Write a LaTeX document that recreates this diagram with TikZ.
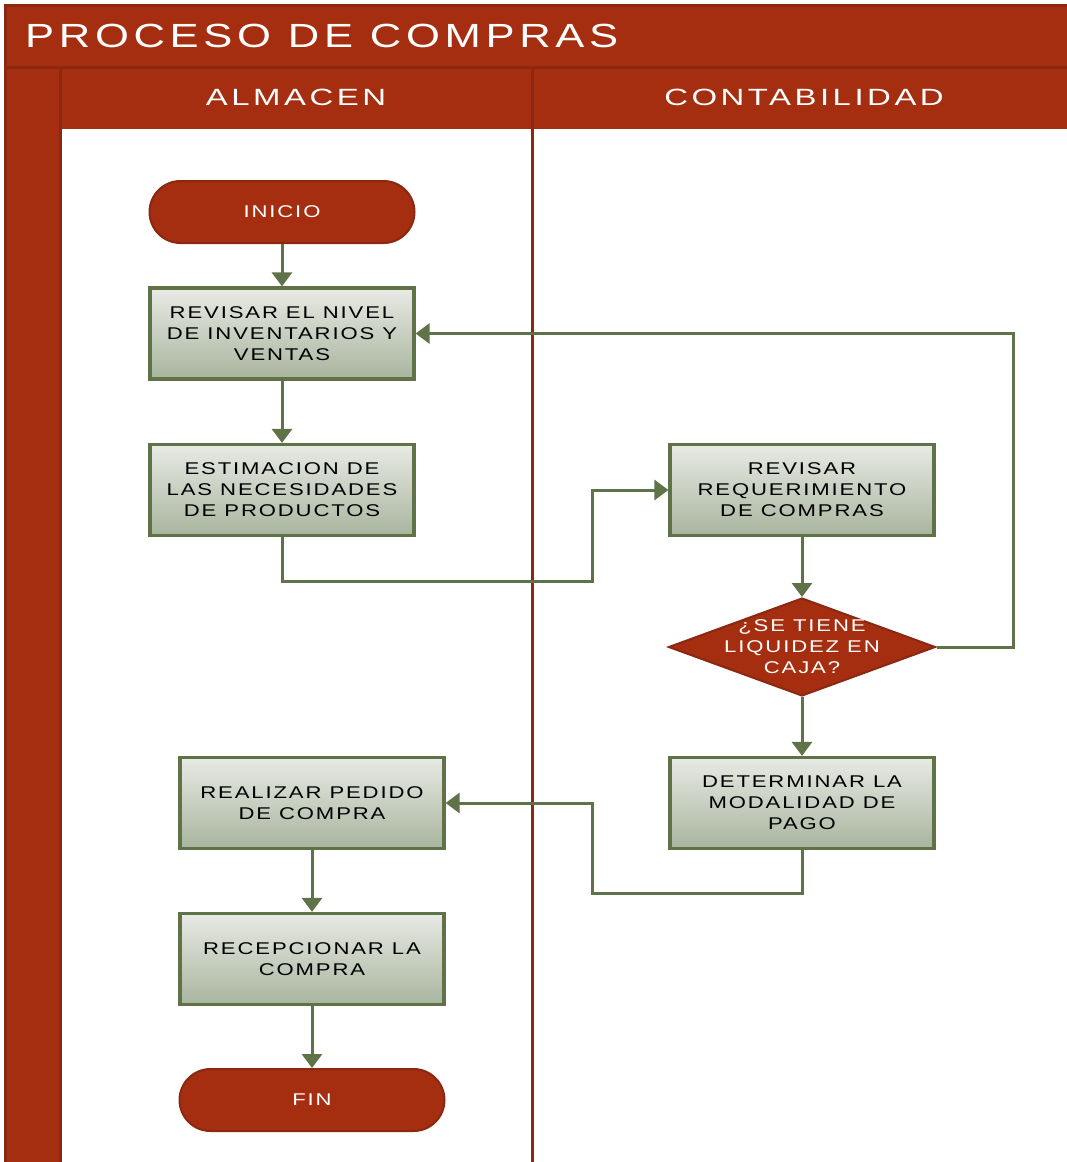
\documentclass[tikz,border=0pt]{standalone}
\usepackage{fontspec}
\usepackage{tikz}
\usetikzlibrary{arrows.meta,shapes}
\newfontfamily\flowfont[FakeStretch=1.3,LetterSpace=11]{Liberation Sans}
\newfontfamily\lanefont[FakeStretch=1.4,LetterSpace=15]{Liberation Sans}
\newfontfamily\titlefont[FakeStretch=1.3,LetterSpace=14]{Liberation Sans}
\definecolor{lanered}{HTML}{A52E10}
\definecolor{lanedark}{HTML}{8A2812}
\definecolor{flowgreen}{HTML}{5F7248}
\definecolor{boxtop}{HTML}{E8EAE4}
\definecolor{boxbot}{HTML}{A8B59E}
\tikzstyle{process}=[rectangle,draw=flowgreen,line width=3.2pt,top color=boxtop,bottom color=boxbot,minimum width=264pt,minimum height=91pt,align=center,font=\flowfont\fontsize{17}{21}\selectfont]
\tikzstyle{terminal}=[rectangle,rounded corners=31pt,draw=lanedark,line width=2pt,fill=lanered,text=white,minimum width=265pt,minimum height=62pt,font=\flowfont\fontsize{17}{21}\selectfont]
\tikzstyle{decision}=[diamond,draw=lanedark,line width=2pt,fill=lanered,text=white,minimum width=267pt,minimum height=98pt,inner sep=0pt,font=\flowfont\fontsize{17}{21}\selectfont]
\tikzstyle{flow} = [draw=flowgreen,line width=3pt,-{Triangle[width=20pt,length=14pt]}]
\tikzstyle{laneline} = [draw=lanedark,line width=3pt]
\tikzstyle{lanetext} = [text=white,inner sep=0pt,font=\lanefont\fontsize{23.5}{26}\selectfont]

\begin{document}
\begin{tikzpicture}[x=1pt,y=-1pt]
    \useasboundingbox (0,0) rectangle (1067,1162);
    % Pool and lanes
    \fill[lanered] (5,5) rectangle (1067,129);
    \fill[lanered] (5,129) rectangle (60,1162);
    \draw[laneline] (5,1162) -- (5,5) -- (1067,5);
    \draw[laneline] (5,67) -- (1067,67);
    \draw[laneline] (60,67) -- (60,1162);
    \draw[laneline] (532,67) -- (532,1162);
    \node[lanetext,anchor=west,font=\titlefont\fontsize{33.5}{36}\selectfont] (titulo) at (25,35.5) {PROCESO DE COMPRAS};
    \node[lanetext] (almacen) at (296,97) {ALMACEN};
    \node[lanetext] (contab) at (804,97) {CONTABILIDAD};

    % First we draw the steps
    \node[terminal] (inicio) at (282,212) {INICIO};
    \node[terminal] (fin) at (312,1100) {FIN};
    \foreach \pos/\name/\txt in {{(282,333.5)/nivel/{REVISAR EL NIVEL\\DE INVENTARIOS Y\\VENTAS}},
        {(282,490)/estim/{ESTIMACION DE\\LAS NECESIDADES\\DE PRODUCTOS}},
        {(802,490)/reqs/{REVISAR\\REQUERIMIENTO\\DE COMPRAS}},
        {(802,803)/pago/{DETERMINAR LA\\MODALIDAD DE\\PAGO}},
        {(312,803)/pedido/{REALIZAR PEDIDO\\DE COMPRA}},
        {(312,959)/recep/{RECEPCIONAR LA\\COMPRA}}}
        \node[process] (\name) at \pos {\txt};
    \node[decision] (liq) at (802,647) {\makebox[0pt]{\smash{\raisebox{-6pt}{\begin{tabular}{@{}c@{}}¿SE TIENE\\LIQUIDEZ EN\\CAJA?\end{tabular}}}}};

    % Bends of the long connectors
    \coordinate (c1) at (592,581);
    \coordinate (c2) at (1013,500);
    \coordinate (c3) at (592,893);

    % Connect steps with arrows
    \foreach \source/ \dest in {inicio/nivel, nivel/estim, reqs/liq, liq/pago, pedido/recep, recep/fin}
        \path[flow] (\source) -- (\dest);
    \path[flow] (estim.south) |- (c1) |- (reqs.west);
    \path[flow] (liq.east) -| (c2) |- (nivel.east);
    \path[flow] (pago.south) |- (c3) |- (pedido.east);
\end{tikzpicture}
\end{document}
